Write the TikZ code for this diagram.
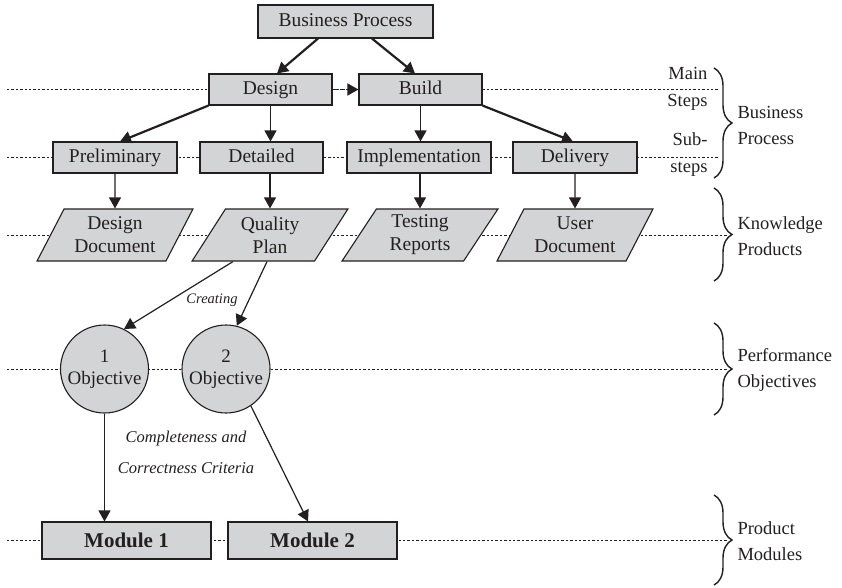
\documentclass[tikz,border=0pt]{standalone}
\usepackage{fontspec}
\setmainfont{LiberationSerif}[Extension=.ttf, UprightFont=*-Regular, BoldFont=*-Bold, ItalicFont=*-Italic, BoldItalicFont=*-BoldItalic]
\usetikzlibrary{arrows.meta,shapes.geometric,decorations.pathreplacing,calc}
\definecolor{ink}{HTML}{231F20}
\definecolor{boxfill}{HTML}{D3D4D6}
\begin{document}
\begin{tikzpicture}[x=1pt,y=-1pt,
  every node/.style={text=ink},
  stepbox/.style={draw=ink, fill=boxfill, line width=1.1pt, inner sep=0pt,
    minimum height=31, text height=13.5pt, text depth=4pt,
    font=\fontsize{19.5}{22}\selectfont},
  pgram/.style={trapezium, trapezium left angle=59.2, trapezium right angle=120.8,
    trapezium stretches=true, draw=ink, fill=boxfill, line width=1.1pt,
    minimum width=156, minimum height=52, inner sep=0pt, align=center,
    font=\fontsize{19.5}{23}\selectfont},
  objcircle/.style={circle, draw=ink, fill=boxfill, line width=1.1pt,
    minimum size=88, inner sep=0pt, align=center,
    font=\fontsize{19}{22}\selectfont},
  modbox/.style={draw=ink, fill=boxfill, line width=1.1pt, inner sep=0pt,
    minimum width=169, minimum height=37, text height=14pt, text depth=1pt,
    font=\fontsize{21}{24}\selectfont\bfseries},
  guide/.style={draw=ink, line width=1pt, dash pattern=on 2.4pt off 2pt},
  tip/.style={-{Triangle[length=11pt,width=12pt]}},
  thinarrow/.style={draw=ink, line width=1.2pt, tip},
  heavyarrow/.style={draw=ink, line width=2.2pt, tip},
  sidebrace/.style={draw=ink, line width=1.4pt,
    decorate, decoration={brace, amplitude=18pt}},
  sidelabel/.style={anchor=west, align=left, font=\fontsize{18.5}{26}\selectfont},
  steplabel/.style={anchor=east, align=right, font=\fontsize{18.5}{27}\selectfont},
  note/.style={font=\fontsize{16.5}{31}\selectfont\itshape, align=center}
]
\useasboundingbox (0,0) rectangle (842,587);

% horizontal guide lines for each level
\coordinate (gl1) at (7,89.5);   \coordinate (gr1) at (719,89.5);
\coordinate (gl2) at (7,157.5);  \coordinate (gr2) at (719,157.5);
\coordinate (gl3) at (7,235);    \coordinate (gr3) at (728,235);
\coordinate (gl4) at (7,369);    \coordinate (gr4) at (728,369);
\coordinate (gl5) at (7,540.5);  \coordinate (gr5) at (728,540.5);
\foreach \i in {1,...,5} \draw[guide] (gl\i) -- (gr\i);

% process steps
\node[stepbox, minimum width=175, minimum height=33] (bp) at (345.5,21.5) {Business Process};
\node[stepbox, minimum width=123] (design) at (270.5,89.5) {Design};
\node[stepbox, minimum width=123] (build) at (420.5,89.5) {Build};
\node[stepbox, minimum width=124] (prelim) at (115,157.5) {Preliminary};
\node[stepbox, minimum width=123] (detailed) at (261.5,157.5) {Detailed};
\node[stepbox, minimum width=144] (impl) at (419,157.5) {Implementation};
\node[stepbox, minimum width=124] (delivery) at (575,157.5) {Delivery};

% knowledge products
\node[pgram] (dd) at (115,235) {Design\\Document};
\node[pgram] (qp) at (270,235) {Quality\\Plan};
\node[pgram] (tr) at (420,235) {Testing\\Reports};
\node[pgram] (ud) at (575,235) {User\\Document};

% performance objectives
\node[objcircle] (obj1) at (104.5,369) {1\\Objective};
\node[objcircle] (obj2) at (226,369) {2\\Objective};

% product modules
\node[modbox] (mod1) at (126.5,540.5) {Module 1};
\node[modbox] (mod2) at (312.5,540.5) {Module 2};

% connectors
\draw[heavyarrow] ($(bp.south)+(-27.5,0)$) -- ($(design.north)+(6.5,0)$);
\draw[heavyarrow] ($(bp.south)+(26.5,0)$) -- ($(build.north)+(-5.5,0)$);
\draw[draw=ink, line width=1.6pt, dash pattern=on 5pt off 2pt, tip] (design.east) -- (build.west);
\draw[heavyarrow] (design.south west) -- ($(prelim.north)+(5,0)$);
\draw[heavyarrow] (build.south east) -- ($(delivery.north)+(-2,0)$);
\draw[thinarrow] (design.south) -- (design.south |- detailed.north);
\draw[thinarrow] (build.south) -- (build.south |- impl.north);
\draw[thinarrow] (prelim.south) -- (dd.north);
\draw[thinarrow] (qp.north |- detailed.south) -- (qp.north);
\draw[thinarrow] (tr.north |- impl.south) -- (tr.north);
\draw[thinarrow] (delivery.south) -- (ud.north);
\draw[thinarrow] ($(qp.south)+(-37,0)$) -- (obj1.64);
\draw[thinarrow] ($(qp.south)+(-3,0)$) -- (obj2.76);
\draw[thinarrow] (obj1.south) -- (obj1.south |- mod1.north);
\draw[thinarrow] (obj2.-56) -- ($(mod2.north)+(-4.5,0)$);

% connector labels
\node[font=\fontsize{14.5}{17}\selectfont\itshape] (creating) at (212,300) {Creating};
\node[note] (criteria) at (186,452.5) {Completeness and\\Correctness Criteria};

% level labels
\node[steplabel] (mainsteps) at (711,89) {Main\\Steps};
\node[steplabel] (substeps) at (711,155) {Sub-\\steps};

\draw[sidebrace] (714,68) -- (714,178);
\draw[sidebrace] (714,188) -- (714,281);
\draw[sidebrace] (714,323) -- (714,415);
\draw[sidebrace] (714,495) -- (714,585);

\node[sidelabel] (lbp) at (734,125) {Business\\Process};
\node[sidelabel] (lkp) at (734,236) {Knowledge\\Products};
\node[sidelabel] (lpo) at (734,370) {Performance\\Objectives};
\node[sidelabel] (lpm) at (734,541) {Product\\Modules};
\end{tikzpicture}
\end{document}
